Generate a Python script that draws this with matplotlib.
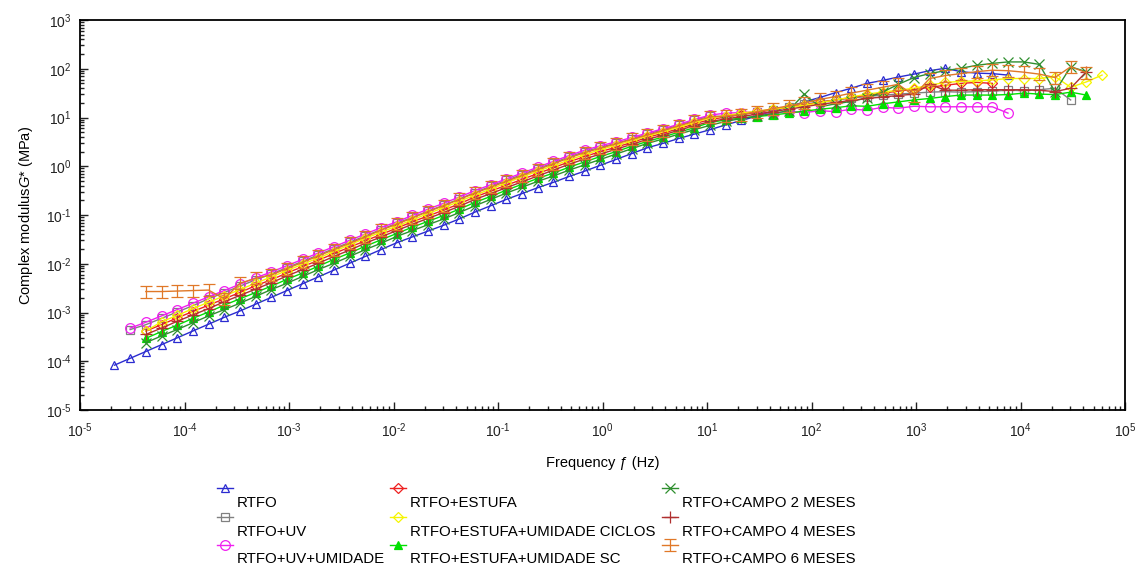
import matplotlib
matplotlib.use('Agg')
import matplotlib.pyplot as plt
from matplotlib.lines import Line2D
from matplotlib.path import Path
from matplotlib.ticker import LogLocator, NullFormatter, FuncFormatter, FixedLocator
import numpy as np

plt.rcParams['font.family'] = ['Liberation Sans', 'DejaVu Sans']
plt.rcParams['mathtext.fontset'] = 'custom'
plt.rcParams['mathtext.rm'] = 'Liberation Sans'
plt.rcParams['mathtext.it'] = 'Liberation Sans:italic'

# shared log10 frequency grid (Hz)
LOG_F = [-4.67, -4.52, -4.37, -4.22, -4.07, -3.92, -3.77, -3.62, -3.47, -3.32,
         -3.17, -3.02, -2.87, -2.72, -2.57, -2.42, -2.27, -2.12, -1.97, -1.82,
         -1.67, -1.52, -1.37, -1.22, -1.07, -0.92, -0.77, -0.62, -0.47, -0.32,
         -0.17, -0.02, 0.13, 0.28, 0.43, 0.58, 0.73, 0.88, 1.03, 1.18,
         1.33, 1.48, 1.63, 1.78, 1.93, 2.08, 2.23, 2.38, 2.53, 2.68,
         2.83, 2.98, 3.13, 3.28, 3.43, 3.58, 3.73, 3.88, 4.03, 4.18,
         4.33, 4.48, 4.63, 4.78, 4.93]

LABELS = ['RTFO', 'RTFO+UV', 'RTFO+UV+UMIDADE',
          'RTFO+ESTUFA', 'RTFO+ESTUFA+UMIDADE CICLOS', 'RTFO+ESTUFA+UMIDADE SC',
          'RTFO+CAMPO 2 MESES', 'RTFO+CAMPO 4 MESES', 'RTFO+CAMPO 6 MESES']

# decade exponents for the tick marks
X_DECADES = [-5, -4, -3, -2, -1, 0, 1, 2, 3, 4, 5]
Y_DECADES = [-5, -4, -3, -2, -1, 0, 1, 2, 3]

# first grid index of each series
START = [0, 1, 1, 2, 2, 2, 2, 2, 2]

# log10 |G*| (MPa)
rtfo = [-4.08, -3.94, -3.80, -3.66, -3.52, -3.38, -3.24, -3.10, -2.97, -2.83,
        -2.69, -2.55, -2.41, -2.27, -2.13, -1.99, -1.85, -1.71, -1.57, -1.45,
        -1.33, -1.21, -1.08, -0.94, -0.81, -0.68, -0.56, -0.44, -0.33, -0.21,
        -0.10, 0.02, 0.14, 0.26, 0.38, 0.47, 0.57, 0.66, 0.75, 0.85,
        0.94, 1.03, 1.13, 1.22, 1.32, 1.41, 1.51, 1.60, 1.70, 1.76,
        1.83, 1.89, 1.96, 2.01, 1.94, 1.91, 1.90, 1.87]
rtfo_uv = [-3.35, -3.25, -3.12, -2.99, -2.86, -2.72, -2.59, -2.46, -2.33, -2.21,
           -2.08, -1.95, -1.82, -1.69, -1.56, -1.43, -1.30, -1.17, -1.05, -0.92,
           -0.80, -0.67, -0.54, -0.41, -0.29, -0.17, -0.05, 0.07, 0.19, 0.30,
           0.39, 0.47, 0.56, 0.66, 0.75, 0.84, 0.94, 1.03, 1.02, 1.06,
           1.11, 1.16, 1.22, 1.27, 1.32, 1.36, 1.40, 1.43, 1.46, 1.48,
           1.50, 1.52, 1.53, 1.52, 1.53, 1.54, 1.56, 1.55, 1.57, 1.60, 1.36]
rtfo_uv_umid = [-3.32, -3.20, -3.07, -2.94, -2.81, -2.68, -2.55, -2.42, -2.29, -2.17,
                -2.04, -1.91, -1.78, -1.65, -1.52, -1.39, -1.26, -1.14, -1.01, -0.88,
                -0.76, -0.63, -0.50, -0.38, -0.26, -0.14, -0.02, 0.10, 0.22, 0.33,
                0.42, 0.50, 0.59, 0.68, 0.77, 0.86, 0.96, 1.05, 1.09, 1.10,
                1.12, 1.08, 1.13, 1.10, 1.14, 1.12, 1.17, 1.15, 1.21, 1.19,
                1.23, 1.22, 1.22, 1.22, 1.22, 1.22, 1.09]
rtfo_estufa = [-3.38, -3.25, -3.11, -2.98, -2.85, -2.72, -2.59, -2.45, -2.33, -2.19,
               -2.06, -1.93, -1.79, -1.66, -1.53, -1.40, -1.27, -1.14, -1.02, -0.90,
               -0.77, -0.63, -0.51, -0.39, -0.27, -0.15, -0.03, 0.09, 0.20, 0.30,
               0.39, 0.49, 0.59, 0.68, 0.77, 0.87, 0.96, 1.01, 1.06, 1.11,
               1.16, 1.21, 1.26, 1.31, 1.36, 1.41, 1.46, 1.50, 1.54, 1.58,
               1.62, 1.66, 1.70, 1.72, 1.70]
rtfo_ciclos = [-3.38, -3.19, -3.06, -2.92, -2.79, -2.66, -2.53, -2.40, -2.27, -2.14,
               -2.01, -1.88, -1.75, -1.61, -1.48, -1.35, -1.23, -1.10, -0.97, -0.85,
               -0.72, -0.59, -0.47, -0.34, -0.22, -0.10, 0.01, 0.13, 0.24, 0.34,
               0.43, 0.52, 0.62, 0.71, 0.80, 0.90, 0.99, 1.04, 1.09, 1.13,
               1.17, 1.21, 1.25, 1.30, 1.36, 1.42, 1.48, 1.52, 1.56, 1.60,
               1.66, 1.72, 1.74, 1.75, 1.77, 1.80, 1.80, 1.80, 1.84, 1.62,
               1.73, 1.87]
rtfo_sc = [-3.53, -3.39, -3.26, -3.12, -2.99, -2.85, -2.72, -2.59, -2.46, -2.32,
           -2.19, -2.05, -1.91, -1.78, -1.64, -1.51, -1.38, -1.25, -1.13, -1.01,
           -0.88, -0.74, -0.62, -0.49, -0.37, -0.25, -0.14, -0.02, 0.09, 0.20,
           0.30, 0.41, 0.51, 0.60, 0.70, 0.79, 0.90, 0.95, 0.99, 1.02,
           1.05, 1.09, 1.13, 1.17, 1.20, 1.24, 1.23, 1.28, 1.32, 1.36,
           1.39, 1.43, 1.46, 1.46, 1.46, 1.47, 1.50, 1.48, 1.47, 1.52, 1.46]
campo_2 = [-3.62, -3.48, -3.35, -3.21, -3.07, -2.94, -2.81, -2.67, -2.53, -2.40,
           -2.26, -2.12, -1.99, -1.85, -1.71, -1.58, -1.44, -1.32, -1.20, -1.08,
           -0.95, -0.81, -0.68, -0.55, -0.43, -0.31, -0.20, -0.08, 0.03, 0.14,
           0.25, 0.36, 0.47, 0.56, 0.66, 0.75, 0.84, 0.92, 0.98, 1.03,
           1.08, 1.14, 1.48, 1.22, 1.28, 1.33, 1.40, 1.52, 1.68, 1.82,
           1.90, 1.96, 2.01, 2.07, 2.11, 2.14, 2.14, 2.09, 1.53, 2.04, 1.94]
campo_4 = [-3.45, -3.32, -3.18, -3.05, -2.92, -2.78, -2.65, -2.52, -2.39, -2.25,
           -2.12, -1.99, -1.85, -1.72, -1.58, -1.45, -1.32, -1.19, -1.07, -0.95,
           -0.82, -0.68, -0.56, -0.44, -0.32, -0.20, -0.08, 0.04, 0.15, 0.25,
           0.35, 0.45, 0.55, 0.64, 0.74, 0.83, 0.92, 0.97, 1.02, 1.07,
           1.12, 1.17, 1.22, 1.27, 1.31, 1.35, 1.39, 1.42, 1.45, 1.48,
           1.68, 1.56, 1.56, 1.57, 1.57, 1.57, 1.57, 1.56, 1.53, 1.60, 1.94]
campo_6 = [-2.57, -2.57, -2.56, -2.55, -2.54, -2.72, -2.40, -2.30, -2.23, -2.10,
           -1.97, -1.84, -1.71, -1.58, -1.45, -1.31, -1.19, -1.06, -0.93, -0.81,
           -0.68, -0.55, -0.43, -0.31, -0.19, -0.07, 0.05, 0.17, 0.28, 0.37,
           0.46, 0.55, 0.64, 0.73, 0.83, 0.92, 1.01, 1.03, 1.06, 1.12,
           1.18, 1.24, 1.30, 1.37, 1.43, 1.50, 1.56, 1.62, 1.68, 1.45,
           1.80, 1.86, 1.90, 1.94, 1.97, 1.96, 1.93, 1.89, 1.82, 2.04, 1.92]

SERIES = [rtfo, rtfo_uv, rtfo_uv_umid, rtfo_estufa, rtfo_ciclos, rtfo_sc,
          campo_2, campo_4, campo_6]

# I-beam marker for the 6 month series
ibeam = Path([(-0.5, 0.5), (0.5, 0.5), (0, 0.5), (0, -0.5), (-0.5, -0.5), (0.5, -0.5)],
             [Path.MOVETO, Path.LINETO, Path.MOVETO, Path.LINETO, Path.MOVETO, Path.LINETO])

STYLES = [
    dict(color='#2b2bd0', marker='^', mfc='none', ms=6),
    dict(color='#808080', marker='s', mfc='none', ms=6),
    dict(color='#f020f0', marker='o', mfc='none', ms=7),
    dict(color='#ee2020', marker='D', mfc='none', ms=5),
    dict(color='#f5f500', marker='D', mfc='none', ms=5),
    dict(color='#00e000', marker='^', mfc='#00e000', ms=6),
    dict(color='#2f8f2f', marker='x', mfc='none', ms=7),
    dict(color='#b03030', marker='+', mfc='none', ms=8),
    dict(color='#e07828', marker=ibeam, mfc='none', ms=8),
]


def pow_label(v, pos):
    """10^n tick label with a plain hyphen in the exponent"""
    n = int(round(np.log10(v)))
    return '$10^{\\mathrm{%s}}$' % (str(n).replace('-', '\u2010'))


fig = plt.figure(figsize=(11.38, 5.67), dpi=100)
ax = fig.add_axes([80 / 1138, 1 - 410 / 567, 1045 / 1138, 390 / 567])

for vals, start, st in zip(SERIES, START, STYLES):
    x = 10 ** np.array(LOG_F[start:start + len(vals)])
    y = 10 ** np.array(vals)
    ax.plot(x, y, lw=1.0, mew=0.9, **st)

ax.set_xscale('log')
ax.set_yscale('log')
ax.set_xlim(1e-5, 1e5)
ax.set_ylim(1e-5, 1e3)
ax.xaxis.set_major_locator(FixedLocator([10.0 ** k for k in X_DECADES]))
ax.yaxis.set_major_locator(FixedLocator([10.0 ** k for k in Y_DECADES]))
ax.xaxis.set_minor_locator(LogLocator(base=10, subs=np.arange(2, 10), numticks=20))
ax.yaxis.set_minor_locator(LogLocator(base=10, subs=np.arange(2, 10), numticks=20))
ax.xaxis.set_major_formatter(FuncFormatter(pow_label))
ax.yaxis.set_major_formatter(FuncFormatter(pow_label))
ax.xaxis.set_minor_formatter(NullFormatter())
ax.yaxis.set_minor_formatter(NullFormatter())
ax.tick_params(which='both', direction='in', top=False, right=False,
               labelsize=10, colors='#222222', width=1.0)
ax.tick_params(which='major', length=6)
ax.tick_params(which='minor', length=3)
ax.tick_params(axis='x', which='major', pad=8)
ax.tick_params(axis='y', which='major', pad=6)
for sp in ax.spines.values():
    sp.set_linewidth(1.3)

ax.set_xlabel('Frequency ƒ (Hz)', fontsize=10.5, labelpad=12)
ax.set_ylabel('Complex modulus$\\it{G}$* (MPa)', fontsize=10.5, labelpad=8)

# legend: handle above, label below-right (three columns)
col_h = [217, 390, 662]
col_t = [237, 410, 682]
row_h = [488, 517, 545]
row_t = [503, 532, 559]
for k, (lab, st) in enumerate(zip(LABELS, STYLES)):
    c, r = k // 3, k % 3
    x0, x1 = col_h[c] / 1138, (col_h[c] + 16) / 1138
    yh = 1 - row_h[r] / 567
    fig.add_artist(Line2D([x0, (x0 + x1) / 2, x1], [yh, yh, yh], transform=fig.transFigure,
                          markevery=[1], lw=1.0, mew=0.9, **st))
    fig.text(col_t[c] / 1138, 1 - row_t[r] / 567, lab, fontsize=10.8,
             va='center', ha='left')

fig.savefig('out.png', dpi=100)
